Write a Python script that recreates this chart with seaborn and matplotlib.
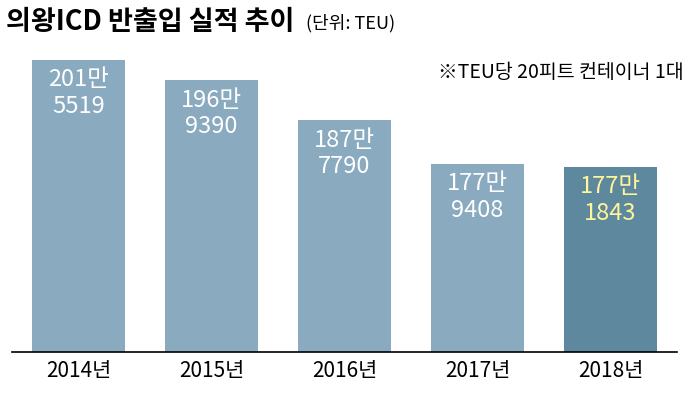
import matplotlib
matplotlib.use("Agg")
import matplotlib.pyplot as plt
from matplotlib import font_manager as fm
import seaborn as sns
import pandas as pd

years = ["2014년", "2015년", "2016년", "2017년", "2018년"]
values = [2015519, 1969390, 1877790, 1779408, 1771843]
colors = ["#8aaac0", "#8aaac0", "#8aaac0", "#8aaac0", "#5d889e"]
label_colors = ["white", "white", "white", "white", "#fff59a"]

cjk = [f.name for f in fm.fontManager.ttflist if "CJK" in f.name]
fam = "Noto Sans CJK KR" if "Noto Sans CJK KR" in cjk else (cjk[0] if cjk else "DejaVu Sans")
plt.rcParams["font.family"] = [fam, "DejaVu Sans"]
fig = plt.figure(figsize=(6.9, 4.16), dpi=100)
ax = fig.add_axes([12/690, 1-352/416, 665/690, 312/416])
df = pd.DataFrame({"year": years, "value": values})
sns.barplot(data=df, x="year", y="value", hue="year", palette=colors, legend=False,
            width=0.7, ax=ax, saturation=1)
ymin = 1350443
ax.set_ylim(ymin, ymin + 312/0.000439)
ax.set_xlim(-0.5, 4.5)
for i, v in enumerate(values):
    ax.annotate(f"{v//10000}만\n{v%10000}", (i, v), xytext=(0, -6), textcoords="offset points",
                ha="center", va="top", fontsize=17, color=label_colors[i], linespacing=1.2)
for s in ["top", "right", "left"]:
    ax.spines[s].set_visible(False)
ax.spines["bottom"].set_color("black")
ax.spines["bottom"].set_linewidth(1.2)
ax.set_yticks([])
ax.set_xlabel(""); ax.set_ylabel("")
ax.tick_params(axis="x", length=0, labelsize=15, pad=6)
fig.text(6/690, 1-22/416, "의왕ICD 반출입 실적 추이", fontsize=19.5, fontweight="bold", va="center")
fig.text(306/690, 1-23/416, "(단위: TEU)", fontsize=13, va="center")
fig.text(684/690, 1-72/416, "※TEU당 20피트 컨테이너 1대", fontsize=14, va="center", ha="right")
fig.savefig("out.png", dpi=100)
